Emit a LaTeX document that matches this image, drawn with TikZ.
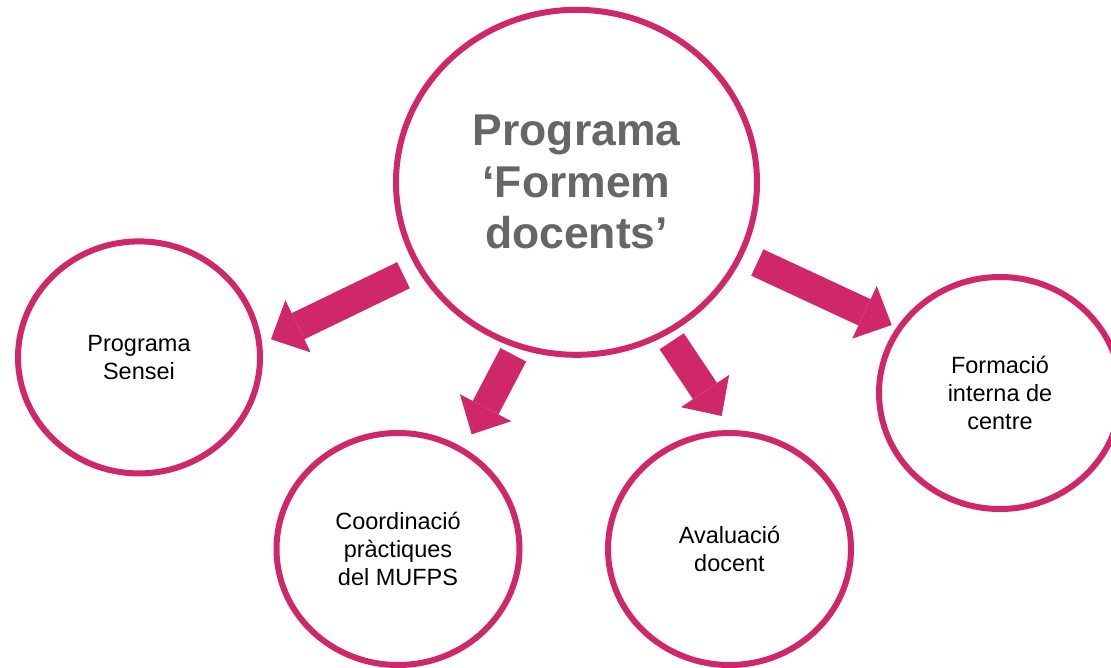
\documentclass[tikz,border=0pt]{standalone}
\usepackage{fontspec}
\setmainfont{Liberation Sans}
\usetikzlibrary{arrows.meta,shapes.geometric}
\definecolor{mag}{RGB}{208,39,107}
\definecolor{txtgray}{RGB}{102,102,102}
\begin{document}
\begin{tikzpicture}[x=1pt,y=-1pt,
  bubble/.style={ellipse,draw=mag,line width=6pt,fill=white,align=center,inner sep=0pt,text=black,
    font=\fontsize{23.5}{28}\selectfont},
  bigbubble/.style={bubble,text=txtgray,font=\bfseries\fontsize{44.5}{51.5}\selectfont},
  bigarrow/.style={draw=mag,line width=29pt,-{Triangle[length=30pt,width=58pt,line width=0pt]}},
]
\useasboundingbox (0,0) rectangle (1111,667);
\clip (0,0) rectangle (1111,667);
\fill[white] (0,0) rectangle (1111,667);
\node[bigbubble,minimum width=361pt,minimum height=345pt] (main) at (576.5,182.3) {Programa\\‘Formem\\docents’};
\node[bubble,minimum width=242pt,minimum height=232pt] (sensei) at (139,357.4) {Programa\\Sensei};
\node[bubble,minimum width=243pt,minimum height=232pt] (coord) at (398,549) {Coordinació\\pràctiques\\del MUFPS};
\node[bubble,minimum width=243pt,minimum height=232pt] (aval) at (729.5,549) {Avaluació\\docent};
\node[bubble,minimum width=242pt,minimum height=232pt] (form) at (1000,393) {Formació\\interna de\\centre};
\coordinate (t1) at (403.5,275.2); \coordinate (h1) at (271,339.3);
\coordinate (t2) at (513.3,354.8); \coordinate (h2) at (471.7,434.3);
\coordinate (t3) at (671.7,341.3); \coordinate (h3) at (721.7,416);
\coordinate (t4) at (757.3,262.5); \coordinate (h4) at (891.7,325);
\draw[bigarrow] (t1) -- (h1);
\draw[bigarrow] (t2) -- (h2);
\draw[bigarrow] (t3) -- (h3);
\draw[bigarrow] (t4) -- (h4);
\end{tikzpicture}
\end{document}
